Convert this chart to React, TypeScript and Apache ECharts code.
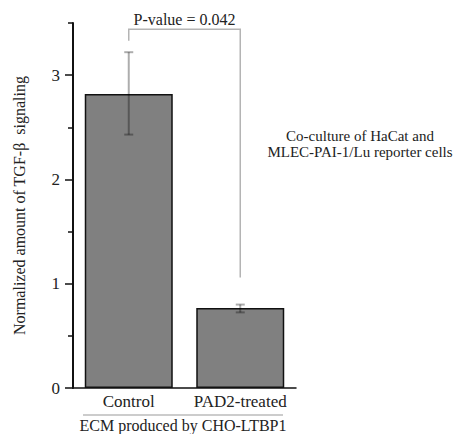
import React, { useEffect, useRef } from "react";
import * as echarts from "echarts";

const categories = ["Control", "PAD2-treated"];
const means = [2.82, 0.766];
const errLow = [2.43, 0.725];
const errHigh = [3.22, 0.8];
const yMajorTicks = [0, 1, 2, 3];
const yMinorTicks = [0.5, 1.5, 2.5, 3.5];
// [fromCategory, toCategory, bracketTop, leftLegEnd, rightLegEnd]
const bracketData = [[0, 1, 3.44, 3.33, 1.06]];
const pLabel = "P-value = 0.042";
const yName = "Normalized amount of TGF-β  signaling";
const groupLabel = "ECM produced by CHO-LTBP1";
const noteLines = ["Co-culture of HaCat and", "MLEC-PAI-1/Lu reporter cells"];

const FONT = "Liberation Serif";

export default function App() {
  const ref = useRef<HTMLDivElement>(null);

  useEffect(() => {
    if (!ref.current) return;
    const chart = echarts.init(ref.current, undefined, { renderer: "svg" });

    const option: any = {
      animation: false,
      backgroundColor: "#ffffff",
      textStyle: { fontFamily: FONT },
      grid: { left: 73, right: 164, top: 23, bottom: 46, containLabel: false, outerBoundsMode: "none" },
      xAxis: {
        type: "category",
        data: categories,
        boundaryGap: true,
        axisLine: { show: true, lineStyle: { color: "#111", width: 1.5 } },
        axisTick: { show: false },
        axisLabel: {
          interval: 0,
          hideOverlap: false,
          margin: 5,
          fontSize: 17,
          color: "#222",
          fontFamily: FONT,
        },
      },
      yAxis: [
        {
          type: "value",
          min: 0,
          max: 3.5,
          interval: 0.5,
          name: yName,
          nameLocation: "middle",
          nameGap: 46,
          nameTextStyle: { fontSize: 16, color: "#222", fontFamily: FONT },
          axisLine: { show: true, lineStyle: { color: "#111", width: 2 } },
          axisTick: { show: true, length: 8, customValues: yMajorTicks, lineStyle: { color: "#111", width: 1.5 } },
          axisLabel: {
            formatter: (v: number) => (yMajorTicks.indexOf(v) >= 0 ? String(v) : ""),
            showMaxLabel: false,
            margin: 13,
            fontSize: 17,
            color: "#222",
            fontFamily: FONT,
          },
          splitLine: { show: false },
        },
        {
          type: "value",
          min: 0,
          max: 3.5,
          interval: 0.5,
          position: "left",
          axisLine: { show: false },
          axisTick: { show: true, length: 5, customValues: yMinorTicks, lineStyle: { color: "#111", width: 1.5 } },
          axisLabel: { show: false },
          splitLine: { show: false },
        },
      ],
      series: [
        {
          type: "bar",
          data: means,
          barWidth: 88,
          itemStyle: { color: "#808080", borderColor: "#111", borderWidth: 1.5 },
        },
        {
          type: "custom",
          data: categories.map((_, i) => [i, errLow[i], errHigh[i]]),
          z: 10,
          renderItem: (params: any, api: any) => {
            const x = api.value(0);
            const lo = api.coord([x, api.value(1)]);
            const hi = api.coord([x, api.value(2)]);
            const half = 4.5;
            const style = { stroke: "rgba(0,0,0,0.32)", lineWidth: 2 };
            return {
              type: "group",
              children: [
                { type: "line", shape: { x1: hi[0], y1: hi[1], x2: lo[0], y2: lo[1] }, style },
                { type: "line", shape: { x1: hi[0] - half, y1: hi[1], x2: hi[0] + half, y2: hi[1] }, style },
                { type: "line", shape: { x1: lo[0] - half, y1: lo[1], x2: lo[0] + half, y2: lo[1] }, style },
              ],
            };
          },
        },
        {
          type: "custom",
          data: bracketData,
          z: 10,
          clip: false,
          renderItem: (params: any, api: any) => {
            const a = api.value(0);
            const b = api.value(1);
            const top = api.value(2);
            const p1 = api.coord([a, api.value(3)]);
            const p2 = api.coord([a, top]);
            const p3 = api.coord([b, top]);
            const p4 = api.coord([b, api.value(4)]);
            return {
              type: "group",
              children: [
                {
                  type: "polyline",
                  shape: { points: [p1, p2, p3, p4] },
                  style: { stroke: "#b4b4b4", lineWidth: 1.5, fill: null },
                },
                {
                  type: "text",
                  x: (p2[0] + p3[0]) / 2,
                  y: p2[1] - 2,
                  style: {
                    text: pLabel,
                    fontSize: 16,
                    fontFamily: FONT,
                    fill: "#222",
                    textAlign: "center",
                    textVerticalAlign: "bottom",
                  },
                },
              ],
            };
          },
        },
      ],
      graphic: [
        {
          type: "line",
          shape: { x1: 83, y1: 415, x2: 283, y2: 415 },
          style: { stroke: "#999", lineWidth: 1 },
        },
        {
          type: "text",
          x: 183,
          y: 425,
          style: {
            text: groupLabel,
            fontSize: 16,
            fontFamily: FONT,
            fill: "#222",
            textAlign: "center",
            textVerticalAlign: "middle",
          },
        },
        {
          type: "text",
          x: 360,
          y: 144,
          style: {
            text: noteLines.join("\n"),
            fontSize: 15,
            lineHeight: 16,
            fontFamily: FONT,
            fill: "#222",
            textAlign: "center",
            textVerticalAlign: "middle",
          },
        },
      ],
    };

    chart.setOption(option);
    return () => chart.dispose();
  }, []);

  return <div ref={ref} style={{ width: 460, height: 434, position: "absolute", left: 0, top: 0 }} />;
}
